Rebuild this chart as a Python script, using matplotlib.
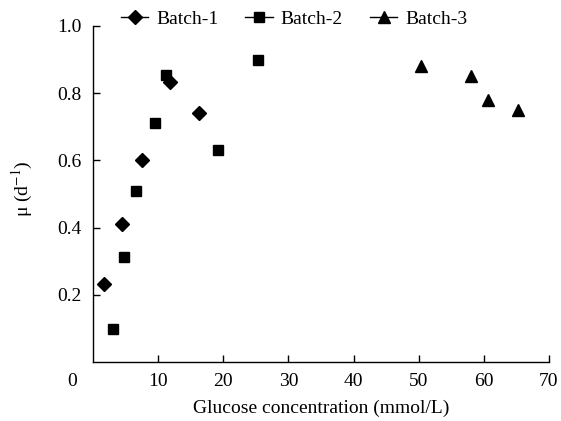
import matplotlib.pyplot as plt
from matplotlib.lines import Line2D

plt.rcParams['font.family'] = ['Liberation Serif', 'DejaVu Serif']
plt.rcParams['mathtext.fontset'] = 'stix'

# Batch data
b1_x = [1.7, 4.5, 7.5, 11.8, 16.3]
b1_y = [0.232, 0.41, 0.60, 0.833, 0.74]
b2_x = [3.1, 4.8, 6.6, 9.5, 11.2, 19.2, 25.3]
b2_y = [0.098, 0.313, 0.51, 0.71, 0.854, 0.63, 0.90]
b3_x = [50.3, 58.0, 60.6, 65.2]
b3_y = [0.88, 0.851, 0.78, 0.75]

labels = ['Batch-1', 'Batch-2', 'Batch-3']
xticks = [10, 20, 30, 40, 50, 60, 70]
yticks = [0.2, 0.4, 0.6, 0.8, 1.0]
fs = 14

fig = plt.figure(figsize=(5.61, 4.21), dpi=100)
ax = fig.add_axes([93/561, 1-362/421, (549-93)/561, (362-26)/421])

ax.plot(b1_x, b1_y, 'kD', ms=7.5, ls='none')
ax.plot(b2_x, b2_y, 'ks', ms=6.5, ls='none')
ax.plot(b3_x, b3_y, 'k^', ms=9, ls='none')

ax.set_xlim(0, 70)
ax.set_ylim(0, 1.0)
ax.set_xticks(xticks)
ax.set_yticks(yticks)
ax.set_yticklabels(['%.1f' % v for v in yticks])
ax.tick_params(direction='in', length=5, width=1, labelsize=fs, pad=8)
for s in ['top', 'right']:
    ax.spines[s].set_visible(False)
for s in ['left', 'bottom']:
    ax.spines[s].set_linewidth(1)

# origin label sits left of the axis corner
fig.text(72/561, 1-382/421, '0', ha='center', va='center', fontsize=fs)

ax.set_xlabel('Glucose concentration (mmol/L)', fontsize=fs, labelpad=7)
ax.set_ylabel(r'μ (d$^{-1}$)', fontsize=fs)
ax.yaxis.set_label_coords(-0.128, 0.515)

handles = [Line2D([], [], color='k', marker=m, ms=ms, lw=1)
           for m, ms in [('D', 7), ('s', 6.5), ('^', 8)]]
fig.legend(handles, labels, ncol=3, frameon=False, fontsize=fs,
           loc='center left', bbox_to_anchor=(121/561, 1-19/421),
           handlelength=1.4, handletextpad=0.4, columnspacing=1.4,
           borderpad=0, borderaxespad=0)

fig.savefig('out.png', dpi=100)
